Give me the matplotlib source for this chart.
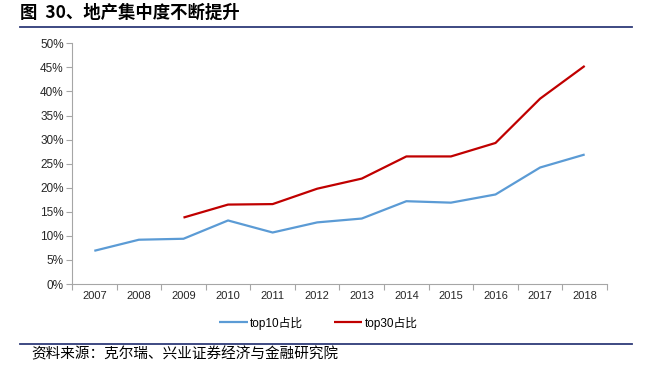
import matplotlib
matplotlib.use('Agg')
import matplotlib.pyplot as plt
import numpy as np

years = ['2007', '2008', '2009', '2010', '2011', '2012',
         '2013', '2014', '2015', '2016', '2017', '2018']
top10 = [6.9, 9.2, 9.4, 13.2, 10.7, 12.8, 13.6, 17.2, 16.9, 18.6, 24.2, 26.9]
top30 = [np.nan, np.nan, 13.8, 16.5, 16.6, 19.8, 21.9, 26.5, 26.5, 29.3, 38.5, 45.3]
yticks = [0, 5, 10, 15, 20, 25, 30, 35, 40, 45, 50]

plt.rcParams['font.family'] = ['Liberation Sans', 'Noto Sans CJK SC']

fig = plt.figure(figsize=(6.5, 3.66), dpi=100)
ax = fig.add_axes([0.1108, 0.224, 0.823, 0.6577])

x = np.arange(len(years))
l1, = ax.plot(x, top10, color='#5B9BD5', lw=1.6, solid_capstyle='butt')
l2, = ax.plot(x, top30, color='#C00000', lw=1.6, solid_capstyle='butt')

ax.set_xlim(-0.5, len(years) - 0.5)
ax.set_ylim(0, 50)

# category axis: ticks between categories, labels at the centres
ax.set_xticks(np.arange(-0.5, len(years), 1.0))
ax.set_xticklabels([])
ax.set_xticks(x, minor=True)
ax.set_xticklabels(years, minor=True, fontsize=8, color='#262626')
ax.tick_params(axis='x', which='minor', length=0, pad=5)
ax.tick_params(axis='x', which='major', length=4, color='#A6A6A6')

ax.set_yticks(yticks)
ax.set_yticklabels([str(v) + '%' for v in yticks], fontsize=8.5, color='#262626')
ax.tick_params(axis='y', length=4, color='#A6A6A6', pad=2)

for s in ['top', 'right']:
    ax.spines[s].set_visible(False)
for s in ['left', 'bottom']:
    ax.spines[s].set_color('#A6A6A6')
    ax.spines[s].set_linewidth(0.8)

fig.legend([l1, l2], ['top10占比', 'top30占比'], loc='center',
           bbox_to_anchor=(0.49, 1 - 323 / 366), ncol=2, frameon=False,
           fontsize=8.5, handlelength=2.4, handletextpad=0.2, columnspacing=2.6)

# title, rules and source
fig.text(20 / 650, 1 - 13 / 366, '图  30、地产集中度不断提升', fontsize=12.5,
         fontweight='bold', family=['Noto Sans CJK SC'], va='center', ha='left')
fig.add_artist(plt.Line2D([20 / 650, 632 / 650], [1 - 26.7 / 366, 1 - 26.7 / 366],
                          color='#2E3A78', lw=1.3))
fig.add_artist(plt.Line2D([20 / 650, 632 / 650], [1 - 343.5 / 366, 1 - 343.5 / 366],
                          color='#2E3A78', lw=1.3))
fig.text(31 / 650, 1 - 354 / 366, '资料来源：克尔瑞、兴业证券经济与金融研究院', fontsize=10.5,
         family=['Noto Sans CJK SC'], va='center', ha='left')

fig.savefig('out.png', dpi=100)
